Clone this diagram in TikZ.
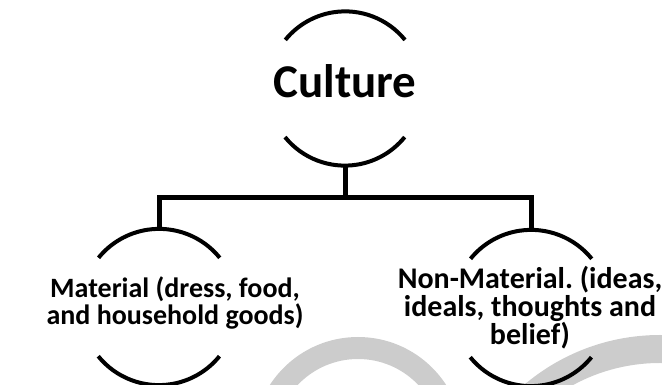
\documentclass[tikz,border=0pt]{standalone}
\usepackage{fontspec}
\setmainfont{Carlito}
\frenchspacing
\begin{document}
\begin{tikzpicture}[x=1pt,y=1pt,
  ring/.style={circle, draw=none, inner sep=0pt, minimum size=#1},
  arcline/.style={line width=4pt, black},
  tree/.style={line width=5pt, black},
  lbl/.style={font=\bfseries\fontsize{28}{27.5}\selectfont, align=center, inner sep=0pt},
  lblr/.style={font=\bfseries\fontsize{30}{28}\selectfont, align=center, inner sep=0pt},
  toplbl/.style={font=\bfseries\fontsize{47}{50}\selectfont, inner sep=0pt},
  wmark/.style={fill=black!20, even odd rule}
]
\useasboundingbox (0,0) rectangle (662,385);
% watermark
\begin{scope}
\clip (0,0) rectangle (662,385);
\fill[wmark] (358,-57) circle[radius=105pt] (358,-57) circle[radius=83pt];
\fill[wmark] (660,-160) circle[radius=210pt] (660,-160) circle[radius=182pt];
\end{scope}
% rings
\node[ring=154pt] (cul) at (345,296.5) {};
\node[ring=156pt] (mat) at (159,78) {};
\node[ring=156pt] (non) at (531,77) {};
\coordinate (j) at (345,187);
% labels
\node[toplbl] (cult) at (345,304) {Culture};
\node[lbl] (matt) at (175,82) {Material (dress, food,\\and household goods)};
\node[lblr] (nont) at (530,77) {Non-Material. (ideas,\\ideals, thoughts and\\belief)};
% arcs
\draw[arcline] (cul.39) arc[start angle=39, end angle=141, radius=77pt];
\draw[arcline] (cul.219) arc[start angle=219, end angle=321, radius=77pt];
\draw[arcline] (mat.39) arc[start angle=39, end angle=141, radius=78pt];
\draw[arcline] (mat.219) arc[start angle=219, end angle=321, radius=78pt];
\draw[arcline] (non.39) arc[start angle=39, end angle=141, radius=78pt];
\draw[arcline] (non.219) arc[start angle=219, end angle=321, radius=78pt];
% tree connectors
\draw[tree] (cul.south) -- (j);
\draw[tree] (mat.north) -- (mat.north |- j) -- (non.north |- j) -- (non.north);
\end{tikzpicture}
\end{document}
